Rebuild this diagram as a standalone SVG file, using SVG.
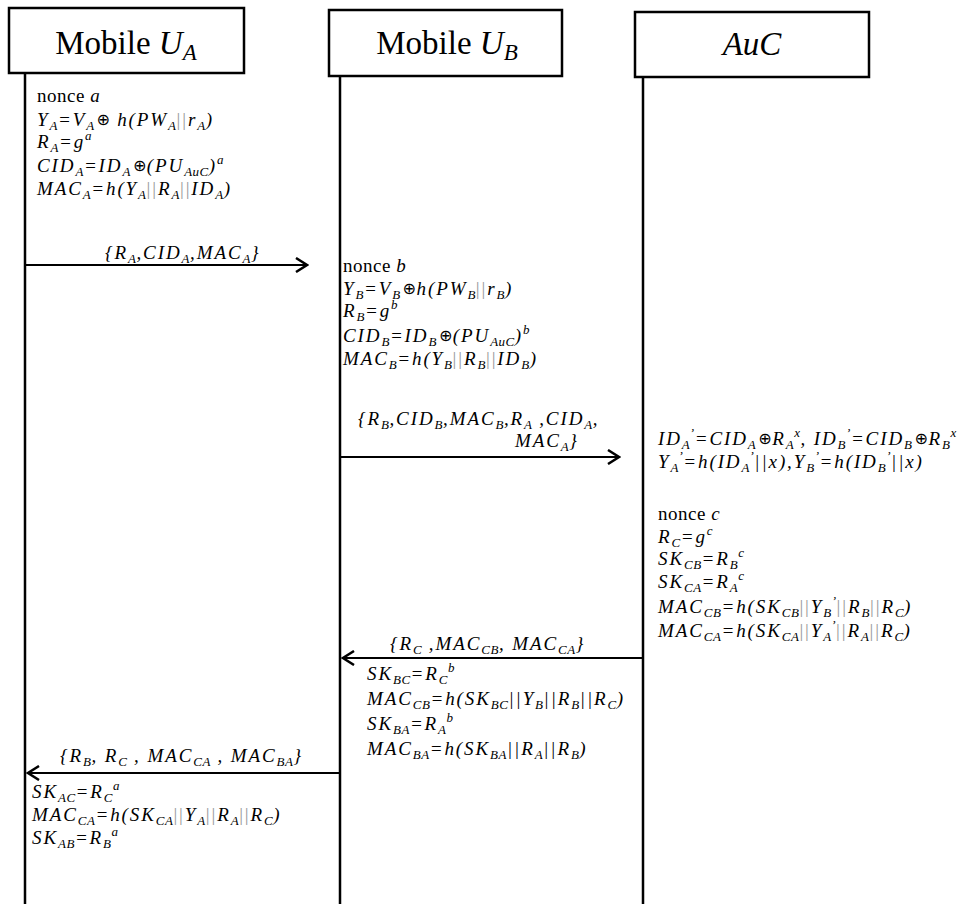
<svg xmlns="http://www.w3.org/2000/svg" width="974" height="904" viewBox="0 0 974 904">
<defs>
<style>
.box{fill:#fff;stroke:#000;stroke-width:2.5}
.life{stroke:#000;stroke-width:2.5;fill:none}
.msg{stroke:#000;stroke-width:2.2;fill:none}
.h{font-family:"Liberation Serif",serif;font-size:33px;fill:#000}
.t{font-family:"Liberation Serif",serif;font-size:19px;letter-spacing:1.9px;font-style:italic;fill:#000}
.n{font-style:normal;letter-spacing:0.5px}
.o{font-style:normal;font-family:"DejaVu Sans",sans-serif;font-size:16px;letter-spacing:0.5px;baseline-shift:1px}
.s{font-size:13px;baseline-shift:-4px;letter-spacing:0.5px}
.p{font-size:13px;baseline-shift:8px;letter-spacing:0.5px}
.hs{font-size:23px;baseline-shift:-6px;font-style:italic}
.g{fill:#999;font-style:normal}
</style>
<marker id="arr" markerUnits="userSpaceOnUse" markerWidth="14" markerHeight="16" refX="12" refY="8" orient="auto">
<path d="M1,1 L12,8 L1,15" fill="none" stroke="#000" stroke-width="2.5"/>
</marker>
</defs>
<rect width="974" height="904" fill="#fff"/>

<g id="lifelines">
<line class="life" x1="25" y1="73" x2="25" y2="904"/>
<line class="life" x1="340" y1="76" x2="340" y2="904"/>
<line class="life" x1="643" y1="77" x2="643" y2="904"/>
</g>

<g id="node-ua">
<rect class="box" x="9" y="8" width="235" height="65"/>
<text class="h" x="126" y="54" text-anchor="middle">Mobile <tspan font-style="italic">U</tspan><tspan class="hs">A</tspan></text>
</g>
<g id="node-ub">
<rect class="box" x="329" y="10" width="233" height="66"/>
<text class="h" x="447" y="54" text-anchor="middle">Mobile <tspan font-style="italic">U</tspan><tspan class="hs">B</tspan></text>
</g>
<g id="node-auc">
<rect class="box" x="635" y="12" width="234" height="65"/>
<text class="h" x="752" y="55" text-anchor="middle" font-style="italic">AuC</text>
</g>

<g id="connectors">
<line class="msg" x1="25" y1="265" x2="307" y2="265" marker-end="url(#arr)"/>
<line class="msg" x1="340" y1="457" x2="619" y2="457" marker-end="url(#arr)"/>
<line class="msg" x1="643" y1="658" x2="343" y2="658" marker-end="url(#arr)"/>
<line class="msg" x1="340" y1="773" x2="28" y2="773" marker-end="url(#arr)"/>
</g>

<g id="labels">
<text class="t" x="105" y="259">{R<tspan class="s">A</tspan>,CID<tspan class="s">A</tspan>,MAC<tspan class="s">A</tspan>}</text>
<text class="t" x="358" y="425">{R<tspan class="s">B</tspan>,CID<tspan class="s">B</tspan>,MAC<tspan class="s">B</tspan>,R<tspan class="s">A</tspan> ,CID<tspan class="s">A</tspan>,</text>
<text class="t" x="515" y="447">MAC<tspan class="s">A</tspan>}</text>
<text class="t" x="390" y="650">{R<tspan class="s">C</tspan> ,MAC<tspan class="s">CB</tspan>, MAC<tspan class="s">CA</tspan>}</text>
<text class="t" x="60" y="762">{R<tspan class="s">B</tspan>, R<tspan class="s">C</tspan> , MAC<tspan class="s">CA</tspan> , MAC<tspan class="s">BA</tspan>}</text>
</g>

<g id="calc-ua-1">
<text class="t" x="37" y="102"><tspan class="n">nonce </tspan>a</text>
<text class="t" x="37" y="126">Y<tspan class="s">A</tspan>=V<tspan class="s">A</tspan><tspan class="o" dx="2">⊕</tspan> h(PW<tspan class="s">A</tspan><tspan class="g">||</tspan>r<tspan class="s">A</tspan>)</text>
<text class="t" x="37" y="148">R<tspan class="s">A</tspan>=g<tspan class="p">a</tspan></text>
<text class="t" x="37" y="172">CID<tspan class="s">A</tspan>=ID<tspan class="s">A</tspan><tspan class="o" dx="2">⊕</tspan>(PU<tspan class="s">AuC</tspan>)<tspan class="p">a</tspan></text>
<text class="t" x="37" y="195">MAC<tspan class="s">A</tspan>=h(Y<tspan class="s">A</tspan><tspan class="g">||</tspan>R<tspan class="s">A</tspan><tspan class="g">||</tspan>ID<tspan class="s">A</tspan>)</text>
</g>

<g id="calc-ub-1">
<text class="t" x="343" y="272"><tspan class="n">nonce </tspan>b</text>
<text class="t" x="343" y="295">Y<tspan class="s">B</tspan>=V<tspan class="s">B</tspan><tspan class="o" dx="2">⊕</tspan>h(PW<tspan class="s">B</tspan><tspan class="g">||</tspan>r<tspan class="s">B</tspan>)</text>
<text class="t" x="343" y="317">R<tspan class="s">B</tspan>=g<tspan class="p">b</tspan></text>
<text class="t" x="343" y="342">CID<tspan class="s">B</tspan>=ID<tspan class="s">B</tspan><tspan class="o" dx="2">⊕</tspan>(PU<tspan class="s">AuC</tspan>)<tspan class="p">b</tspan></text>
<text class="t" x="343" y="365">MAC<tspan class="s">B</tspan>=h(Y<tspan class="s">B</tspan><tspan class="g">||</tspan>R<tspan class="s">B</tspan><tspan class="g">||</tspan>ID<tspan class="s">B</tspan>)</text>
</g>

<g id="calc-auc-1">
<text class="t" x="658" y="445">ID<tspan class="s">A</tspan><tspan class="p">’</tspan>=CID<tspan class="s">A</tspan><tspan class="o" dx="2">⊕</tspan>R<tspan class="s">A</tspan><tspan class="p">x</tspan>, ID<tspan class="s">B</tspan><tspan class="p">’</tspan>=CID<tspan class="s">B</tspan><tspan class="o" dx="2">⊕</tspan>R<tspan class="s">B</tspan><tspan class="p">x</tspan></text>
<text class="t" x="658" y="468">Y<tspan class="s">A</tspan><tspan class="p">’</tspan>=h(ID<tspan class="s">A</tspan><tspan class="p">’</tspan>||x),Y<tspan class="s">B</tspan><tspan class="p">’</tspan>=h(ID<tspan class="s">B</tspan><tspan class="p">’</tspan>||x)</text>
</g>

<g id="calc-auc-2">
<text class="t" x="658" y="520"><tspan class="n">nonce </tspan>c</text>
<text class="t" x="658" y="543">R<tspan class="s">C</tspan>=g<tspan class="p">c</tspan></text>
<text class="t" x="658" y="565">SK<tspan class="s">CB</tspan>=R<tspan class="s">B</tspan><tspan class="p">c</tspan></text>
<text class="t" x="658" y="588">SK<tspan class="s">CA</tspan>=R<tspan class="s">A</tspan><tspan class="p">c</tspan></text>
<text class="t" x="658" y="613">MAC<tspan class="s">CB</tspan>=h(SK<tspan class="s">CB</tspan><tspan class="g">||</tspan>Y<tspan class="s">B</tspan><tspan class="p">’</tspan><tspan class="g">||</tspan>R<tspan class="s">B</tspan><tspan class="g">||</tspan>R<tspan class="s">C</tspan>)</text>
<text class="t" x="658" y="637">MAC<tspan class="s">CA</tspan>=h(SK<tspan class="s">CA</tspan><tspan class="g">||</tspan>Y<tspan class="s">A</tspan><tspan class="p">’</tspan><tspan class="g">||</tspan>R<tspan class="s">A</tspan><tspan class="g">||</tspan>R<tspan class="s">C</tspan>)</text>
</g>

<g id="calc-ub-2">
<text class="t" x="367" y="680">SK<tspan class="s">BC</tspan>=R<tspan class="s">C</tspan><tspan class="p">b</tspan></text>
<text class="t" x="367" y="705">MAC<tspan class="s">CB</tspan>=h(SK<tspan class="s">BC</tspan>||Y<tspan class="s">B</tspan>||R<tspan class="s">B</tspan>||R<tspan class="s">C</tspan>)</text>
<text class="t" x="367" y="730">SK<tspan class="s">BA</tspan>=R<tspan class="s">A</tspan><tspan class="p">b</tspan></text>
<text class="t" x="367" y="755">MAC<tspan class="s">BA</tspan>=h(SK<tspan class="s">BA</tspan>||R<tspan class="s">A</tspan>||R<tspan class="s">B</tspan>)</text>
</g>

<g id="calc-ua-2">
<text class="t" x="32" y="798">SK<tspan class="s">AC</tspan>=R<tspan class="s">C</tspan><tspan class="p">a</tspan></text>
<text class="t" x="32" y="821">MAC<tspan class="s">CA</tspan>=h(SK<tspan class="s">CA</tspan><tspan class="g">||</tspan>Y<tspan class="s">A</tspan><tspan class="g">||</tspan>R<tspan class="s">A</tspan><tspan class="g">||</tspan>R<tspan class="s">C</tspan>)</text>
<text class="t" x="32" y="844">SK<tspan class="s">AB</tspan>=R<tspan class="s">B</tspan><tspan class="p">a</tspan></text>
</g>
</svg>
